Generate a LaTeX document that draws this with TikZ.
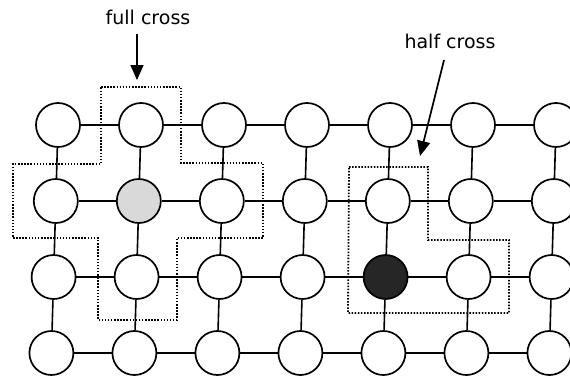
\documentclass[tikz,border=0pt]{standalone}
\usepackage{fontspec}
\setmainfont{DejaVu Sans}
\usetikzlibrary{arrows.meta}

\tikzset{
  cell/.style={circle, draw=black, line width=1.7pt, fill=white,
               minimum size=44pt, inner sep=0pt},
  c11/.style={fill=gray!30},
  c24/.style={fill=black!85},
  link/.style={line width=1.6pt},
  region/.style={line width=1.8pt, dash pattern=on 1.5pt off 1.6pt},
  caption/.style={font=\fontsize{19}{22}\selectfont, inner sep=1pt},
  pointer/.style={line width=1.7pt, -{Triangle[length=15pt,width=13pt]}}
}

\begin{document}
\begin{tikzpicture}[x=1pt,y=-1pt]
\useasboundingbox (0,0) rectangle (570,375);

% lattice of sites, slightly skewed rows
\foreach \r/\yy in {0/125,1/201,2/277,3/353}{
  \foreach \c in {0,...,6}{
    \node[cell, c\r\c/.try] (n\r\c) at ({58+83*\c-2.2*\r},\yy) {};
  }
}

% horizontal bonds
\foreach \r in {0,...,3}{
  \foreach \c [evaluate=\c as \d using int(\c+1)] in {0,...,5}{
    \draw[link] (n\r\c) -- (n\r\d);
  }
}
% vertical bonds
\foreach \c in {0,...,6}{
  \foreach \r [evaluate=\r as \s using int(\r+1)] in {0,...,2}{
    \draw[link] (n\r\c) -- (n\s\c);
  }
}

% full cross neighbourhood
\draw[region] (101,87) -- (181,87) -- (181,163) -- (263,163) -- (263,238)
  -- (177,238) -- (177,320) -- (98,320) -- (98,238) -- (13,238)
  -- (13,164) -- (101,164) -- cycle;

% half cross neighbourhood
\draw[region] (349,167) -- (428,167) -- (428,240) -- (509,240)
  -- (509,313) -- (348,313) -- cycle;

% captions and pointers
\node[caption] (full) at (148,17) {full cross};
\node[caption] (half) at (450,41) {half cross};
\coordinate (fullfrom) at (137,34);
\coordinate (fullto) at (137,80);
\coordinate (halffrom) at (444,60);
\coordinate (halfto) at (420,156);
\draw[pointer] (fullfrom) -- (fullto);
\draw[pointer] (halffrom) -- (halfto);
\end{tikzpicture}
\end{document}
